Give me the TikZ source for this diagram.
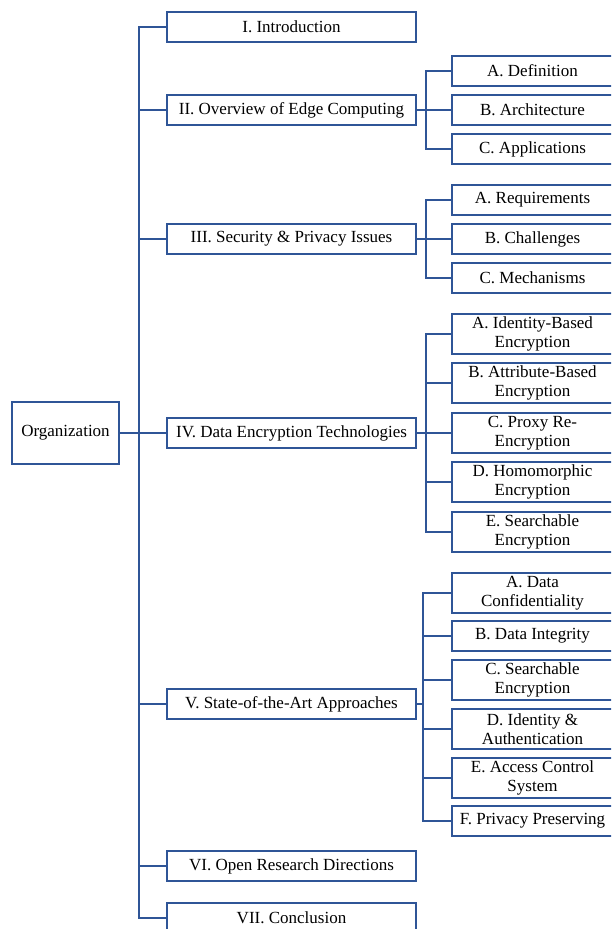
\documentclass[tikz,border=0pt]{standalone}
\usepackage{fontspec}
\setmainfont{Liberation Serif}
\definecolor{lineblue}{RGB}{47,85,151}
\begin{document}
\begin{tikzpicture}[x=1pt,y=-1pt,
  box/.style={draw=lineblue,line width=2pt,inner sep=0pt,align=center,
    font=\fontsize{17}{19.5}\selectfont,text=black},
  topbox/.style={box,minimum width=249pt,minimum height=30pt},
  subbox/.style={box,minimum width=161pt,minimum height=30pt},
  subboxtall/.style={box,minimum width=161pt,minimum height=40pt},
  link/.style={draw=lineblue,line width=2pt}]
\useasboundingbox (0,0) rectangle (611,929);
\clip (0,0) rectangle (611,929);

% root
\node[box,minimum width=107pt,minimum height=62pt] (org) at (65.5,433) {Organization};

% sections
\node[topbox] (s1) at (291.5,27) {I. Introduction};
\node[topbox] (s2) at (291.5,110) {II. Overview of Edge Computing};
\node[topbox] (s3) at (291.5,239) {III. Security \& Privacy Issues};
\node[topbox] (s4) at (291.5,433) {IV. Data Encryption Technologies};
\node[topbox] (s5) at (291.5,704) {V. State-of-the-Art Approaches};
\node[topbox] (s6) at (291.5,866) {VI. Open Research Directions};
\node[topbox] (s7) at (291.5,918) {VII. Conclusion};

% section II
\node[subbox] (s2a) at (532.5,71) {A. Definition};
\node[subbox] (s2b) at (532.5,110) {B. Architecture};
\node[subbox] (s2c) at (532.5,149) {C. Applications};

% section III
\node[subbox] (s3a) at (532.5,200) {A. Requirements};
\node[subbox] (s3b) at (532.5,239) {B. Challenges};
\node[subbox] (s3c) at (532.5,278) {C. Mechanisms};

% section IV
\node[subboxtall] (s4a) at (532.5,334) {A. Identity-Based\\Encryption};
\node[subboxtall] (s4b) at (532.5,383) {B. Attribute-Based\\Encryption};
\node[subboxtall] (s4c) at (532.5,433) {C. Proxy Re-\\Encryption};
\node[subboxtall] (s4d) at (532.5,482) {D. Homomorphic\\Encryption};
\node[subboxtall] (s4e) at (532.5,532) {E. Searchable\\Encryption};

% section V
\node[subboxtall] (s5a) at (532.5,593) {A. Data\\Confidentiality};
\node[subbox] (s5b) at (532.5,636) {B. Data Integrity};
\node[subboxtall] (s5c) at (532.5,680) {C. Searchable\\Encryption};
\node[subboxtall] (s5d) at (532.5,729) {D. Identity \&\\Authentication};
\node[subboxtall] (s5e) at (532.5,778) {E. Access Control\\System};
\node[subbox] (s5f) at (532.5,821) {F. Privacy Preserving};

% junction points
\coordinate (t0) at (139,433);
\coordinate (t2) at (426,110);
\coordinate (t3) at (426,239);
\coordinate (t4) at (426,433);
\coordinate (t5) at (423,704);

% main trunk
\draw[link] (org.east) -- (t0);
\foreach \n in {s1,s2,s3,s4,s5,s6,s7} \draw[link] (\n.west) -| (t0);

% branches
\draw[link] (s2.east) -- (t2);
\foreach \n in {s2a,s2b,s2c} \draw[link] (\n.west) -| (t2);
\draw[link] (s3.east) -- (t3);
\foreach \n in {s3a,s3b,s3c} \draw[link] (\n.west) -| (t3);
\draw[link] (s4.east) -- (t4);
\foreach \n in {s4a,s4b,s4c,s4d,s4e} \draw[link] (\n.west) -| (t4);
\draw[link] (s5.east) -- (t5);
\foreach \n in {s5a,s5b,s5c,s5d,s5e,s5f} \draw[link] (\n.west) -| (t5);
\end{tikzpicture}
\end{document}
